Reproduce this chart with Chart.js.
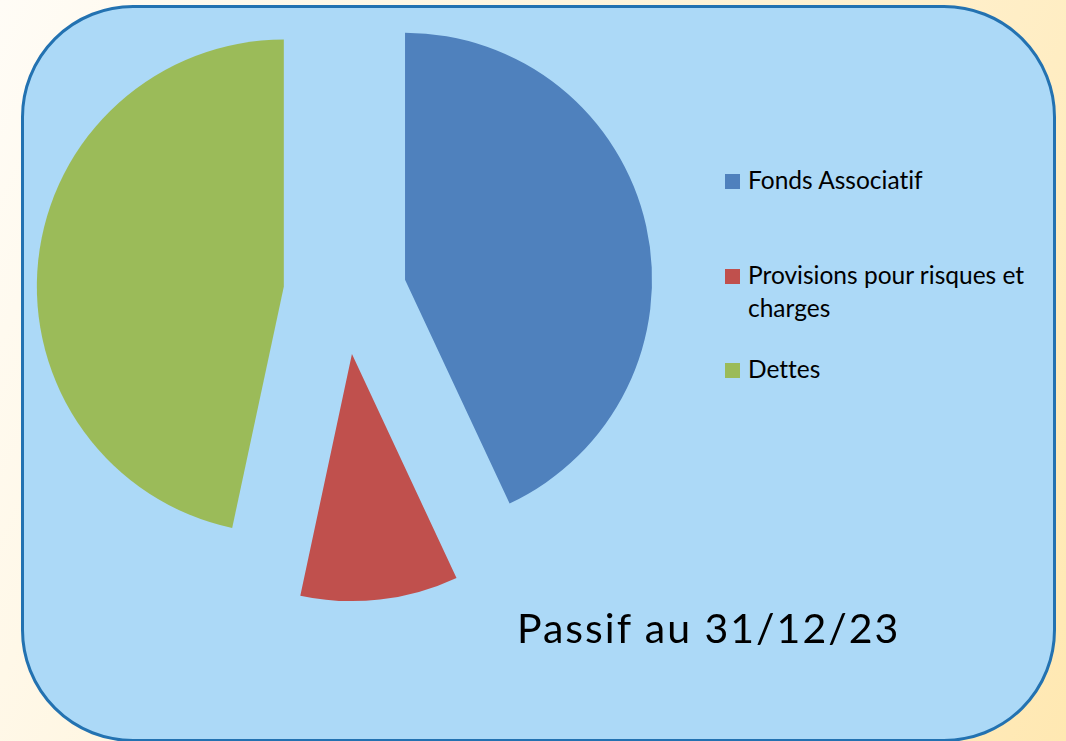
<!DOCTYPE html>
<html>
<head>
<meta charset="utf-8">
<script src="https://cdn.jsdelivr.net/npm/chart.js@4"></script>
<style>
  html, body { margin: 0; padding: 0; }
  body {
    width: 1066px; height: 741px; overflow: hidden; position: relative;
    background: linear-gradient(115deg, #fffcf6 0%, #fff4da 45%, #ffe8b2 100%);
    font-family: Lato, "Open Sans", sans-serif;
    font-variant-ligatures: none;
  }
  .panel {
    position: absolute; left: 21px; top: 5px; width: 1035px; height: 737px;
    box-sizing: border-box; border: 3.5px solid #2372b1; border-radius: 112px;
    background: #acd9f7;
  }
  #chart { position: absolute; left: 0; top: 0; }
  .legend { position: absolute; left: 725px; top: 0; }
  .legend .item { position: absolute; left: 0; width: 320px; }
  .legend .box { position: absolute; left: 0; width: 15px; height: 15px; }
  .legend .txt {
    position: absolute; left: 23px; width: 300px;
    font-size: 24.5px; line-height: 33px; color: #000;
  }
  .title {
    position: absolute; left: 517px; top: 607px;
    font-size: 41px; line-height: 41px; letter-spacing: 2px;
    color: #000; white-space: nowrap;
  }
</style>
</head>
<body>
<div class="panel"></div>
<canvas id="chart" width="690" height="660"></canvas>
<div class="legend" id="legend"></div>
<div class="title">Passif au 31/12/23</div>
<script>
// Passif au 31/12/23 - shares (%)
const categories = ['Fonds Associatif', 'Provisions pour risques et charges', 'Dettes'];
const values = [43.0, 10.3, 46.6];
const colors = ['#4f81bd', '#c0504d', '#9bbb59'];

// pull every slice out from the centre (exploded pie, equal radius for all slices)
const explodePlugin = {
    id: 'explode',
    afterDatasetsUpdate(chart, args, opts) {
        chart.getDatasetMeta(0).data.forEach(arc => {
            const mid = (arc.startAngle + arc.endAngle) / 2;
            arc.x += Math.cos(mid) * opts.distance;
            arc.y += Math.sin(mid) * opts.distance;
        });
    }
};

const ctx = document.getElementById('chart').getContext('2d');
const pieChart = new Chart(ctx, {
    type: 'pie',
    data: {
        labels: categories,
        datasets: [{
            data: values,
            backgroundColor: colors,
            borderWidth: 0,
            clip: false
        }]
    },
    options: {
        responsive: false,
        animation: false,
        radius: 247,
        layout: { padding: { bottom: 74 } },
        plugins: {
            legend: { display: false },
            tooltip: { enabled: false },
            explode: { distance: 61.5 }
        }
    },
    plugins: [explodePlugin]
});

// Legend on the right, built from the chart's own legend items
const legendEl = document.getElementById('legend');
const items = Chart.overrides.pie.plugins.legend.labels.generateLabels(pieChart);
const rowTops = [163, 258, 352];
items.forEach((item, i) => {
    const row = document.createElement('div');
    row.className = 'item';
    row.style.top = rowTops[i] + 'px';
    row.innerHTML = `
        <div class="box" style="top:11px;background:${item.fillStyle}"></div>
        <div class="txt">${item.text}</div>
    `;
    legendEl.appendChild(row);
});
</script>
</body>
</html>
